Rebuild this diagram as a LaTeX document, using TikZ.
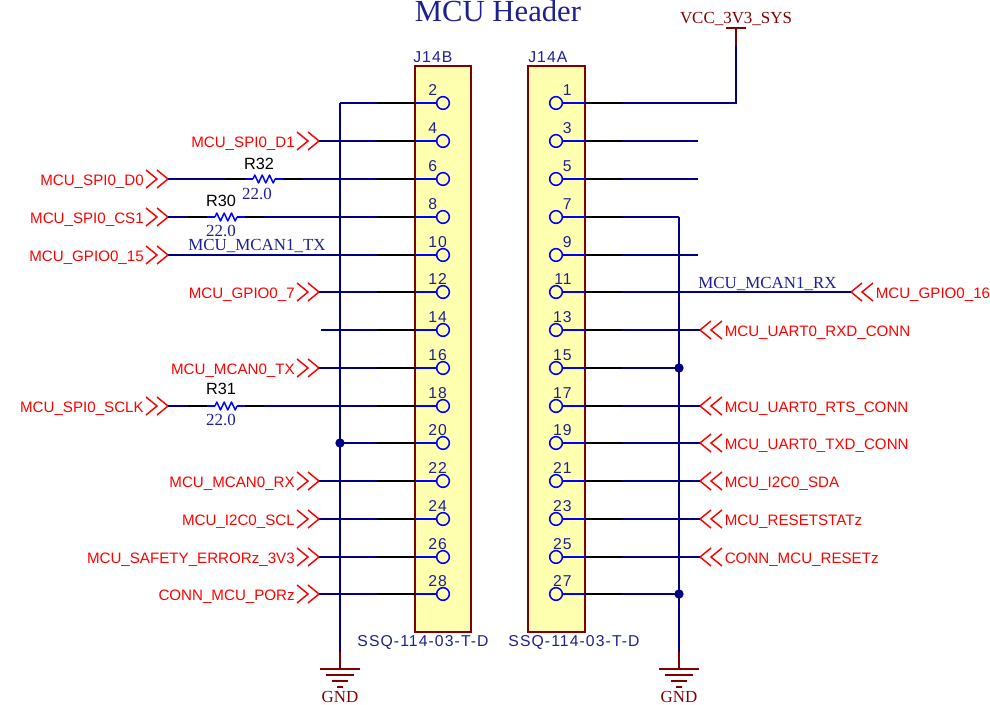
\documentclass[tikz,border=0pt]{standalone}
\usepackage{fontspec}
\usepackage{tikz}
\setmainfont{Liberation Serif}
\setsansfont{Liberation Sans}
\newfontfamily\spaced[LetterSpace=7]{Liberation Sans}
\usetikzlibrary{arrows,shapes}
\definecolor{wireblue}{HTML}{000080}
\definecolor{pinblue}{HTML}{0000FF}
\definecolor{partred}{HTML}{800000}
\definecolor{partfill}{HTML}{FFFFB0}
\definecolor{textblue}{HTML}{1C2090}
\tikzstyle{partbox}=[draw=partred,fill=partfill,line width=1.6pt]
\tikzstyle{pin}=[circle,draw=pinblue,line width=1.15pt,minimum size=9.5pt,inner sep=0pt]
\tikzstyle{wire} = [draw=wireblue,line width=1.1pt]
\tikzstyle{pinwire} = [draw=pinblue,line width=1.1pt]
\tikzstyle{stub} = [draw=black,line width=1.1pt]
\tikzstyle{supply} = [draw=partred,line width=1.1pt]
\tikzstyle{port} = [draw=red,line width=1.1pt]
\tikzstyle{junction}=[circle,fill=wireblue,minimum size=7pt,inner sep=0pt]
\tikzstyle{pinnum} = [font=\spaced\fontsize{11.8}{12}\selectfont,text=textblue,inner sep=0pt]
\tikzstyle{partlabel} = [font=\spaced\fontsize{11.8}{12}\selectfont,text=textblue,inner sep=0pt]
\tikzstyle{portlabel} = [font=\sffamily\fontsize{11.35}{12}\selectfont,text=red,inner sep=0pt]
\tikzstyle{netlabel} = [font=\rmfamily\fontsize{12.7}{13}\selectfont,text=textblue,inner sep=0pt]
\tikzstyle{pwrlabel} = [font=\rmfamily\fontsize{12.7}{13}\selectfont,text=partred,inner sep=0pt]
\tikzstyle{resname} = [font=\sffamily\fontsize{12.2}{13}\selectfont,text=black,inner sep=0pt]

\begin{document}
\begin{tikzpicture}[x=0.75pt,y=-0.75pt]

    \useasboundingbox (0,0) rectangle (990,705);

    \node[font=\rmfamily\fontsize{23}{24}\selectfont,text=textblue,inner sep=0pt,anchor=base] (title) at (498,22) {MCU Header};

    \path[partbox] (415,66) rectangle (471,632);
    \path[partbox] (528,66) rectangle (585,632);
    \node[partlabel,anchor=base west] (j14b) at (413,63) {J14B};
    \node[partlabel,anchor=base west] (j14a) at (528,63) {J14A};
    \node[partlabel,anchor=base] (ssqb) at (423,647) {SSQ-114-03-T-D};
    \node[partlabel,anchor=base] (ssqa) at (574,647) {SSQ-114-03-T-D};

    % pins of J14B
    \foreach \num/\y in {2/103, 4/141, 6/179, 8/217, 10/255, 12/292, 14/330, 16/368, 18/406, 20/443, 22/481, 24/519, 26/557, 28/594} {
        \node[pin] (p\num) at (443,\y) {};
        \node[pinnum,anchor=base west] (n\num) at (428,\y-7) {\num};
        \coordinate (e\num) at (415,\y);
        \coordinate (k\num) at (377,\y);
        \path[pinwire] (p\num) -- (e\num);
        \path[stub] (e\num) -- (k\num);
    }

    % pins of J14A
    \foreach \num/\y in {1/103, 3/141, 5/179, 7/217, 9/255, 11/292, 13/330, 15/368, 17/406, 19/443, 21/481, 23/519, 25/557, 27/594} {
        \node[pin] (p\num) at (556,\y) {};
        \node[pinnum,anchor=base east] (n\num) at (572,\y-7) {\num};
        \coordinate (e\num) at (585,\y);
        \coordinate (k\num) at (622,\y);
        \path[pinwire] (p\num) -- (e\num);
        \path[stub] (e\num) -- (k\num);
    }

    % ports on the left
    \foreach \num/\y/\tip/\name in {4/141/319/MCU\_SPI0\_D1, 6/179/168/MCU\_SPI0\_D0, 8/217/168/MCU\_SPI0\_CS1, 10/255/168/MCU\_GPIO0\_15, 12/292/319/MCU\_GPIO0\_7, 16/368/319/MCU\_MCAN0\_TX, 18/406/168/MCU\_SPI0\_SCLK, 22/481/319/MCU\_MCAN0\_RX, 24/519/319/MCU\_I2C0\_SCL, 26/557/319/MCU\_SAFETY\_ERRORz\_3V3, 28/594/319/CONN\_MCU\_PORz} {
        \coordinate (c\num) at (\tip,\y);
        \path[port] (\tip-11,\y-9) -- (\tip,\y) -- (\tip-11,\y+9);
        \path[port] (\tip-22,\y-9) -- (\tip-11,\y) -- (\tip-22,\y+9);
        \node[portlabel,anchor=base east] (l\num) at (\tip-24,\y+6.5) {\name};
    }

    % ports on the right
    \foreach \num/\y/\tip/\name in {11/292/851/MCU\_GPIO0\_16, 13/330/700/MCU\_UART0\_RXD\_CONN, 17/406/700/MCU\_UART0\_RTS\_CONN, 19/443/700/MCU\_UART0\_TXD\_CONN, 21/481/700/MCU\_I2C0\_SDA, 23/519/700/MCU\_RESETSTATz, 25/557/700/CONN\_MCU\_RESETz} {
        \coordinate (c\num) at (\tip,\y);
        \path[port] (\tip+11,\y-9) -- (\tip,\y) -- (\tip+11,\y+9);
        \path[port] (\tip+22,\y-9) -- (\tip+11,\y) -- (\tip+22,\y+9);
        \node[portlabel,anchor=base west] (l\num) at (\tip+24.5,\y+6.5) {\name};
    }

    % plain wires
    \foreach \num in {4, 10, 12, 16, 22, 24, 26, 28, 11, 13, 17, 19, 21, 23, 25}
        \path[wire] (k\num) -- (c\num);

    \coordinate (c14) at (321,330);
    \path[wire] (k14) -- (c14);
    \foreach \num/\y in {3/141, 5/179, 9/255} {
        \coordinate (c\num) at (698,\y);
        \path[wire] (k\num) -- (c\num);
    }

    % resistors
    \foreach \num/\y/\x/\tip/\rname/\tx/\ty/\vx/\vy in {6/179/253/168/R32/259/170/257/200, 8/217/215/168/R30/221/207/221/237, 18/406/215/168/R31/221/395/221/426} {
        \coordinate (ra\num) at (\x,\y);
        \coordinate (rb\num) at (\x+22,\y);
        \coordinate (sa\num) at (\x-8,\y);
        \coordinate (sb\num) at (\x+30,\y);
        \coordinate (ta\num) at (\x-27,\y);
        \coordinate (tb\num) at (\x+49,\y);
        \path[pinwire,line join=round] (ra\num) -- ++(1.8,-4) -- ++(3.7,8) -- ++(3.7,-8) -- ++(3.6,8) -- ++(3.7,-8) -- ++(3.7,8) -- (rb\num);
        \path[pinwire] (sa\num) -- (ra\num);
        \path[pinwire] (rb\num) -- (sb\num);
        \path[stub] (ta\num) -- (sa\num);
        \path[stub] (sb\num) -- (tb\num);
        \path[wire] (c\num) -- (ta\num);
        \path[wire] (tb\num) -- (k\num);
        \node[resname,anchor=base] (\rname) at (\tx,\ty) {\rname};
        \node[netlabel,anchor=base] (v\rname) at (\vx,\vy) {22.0};
    }

    \node[netlabel,anchor=base west] (txnet) at (188,251) {MCU\_MCAN1\_TX};
    \node[netlabel,anchor=base west] (rxnet) at (698,289) {MCU\_MCAN1\_RX};

    % supply
    \coordinate (vcc) at (736,28);
    \coordinate (vccw) at (736,46);
    \path[wire] (k1) -- (736,103) -- (vccw);
    \path[supply] (vccw) -- (vcc);
    \path[supply] (726,28) -- (746,28);
    \node[pwrlabel,anchor=base] (vccl) at (736,24) {VCC\_3V3\_SYS};

    % ground rails
    \foreach \x/\top/\name in {340/103/a, 679/217/b} {
        \coordinate (gt\name) at (\x,\top);
        \coordinate (gw\name) at (\x,652);
        \coordinate (g\name) at (\x,669);
        \path[wire] (gt\name) -- (gw\name);
        \path[supply] (gw\name) -- (g\name);
        \path[supply] (\x-20,669) -- (\x+20,669);
        \path[supply] (\x-14,675) -- (\x+14,675);
        \path[supply] (\x-8,681) -- (\x+8,681);
        \path[supply] (\x-3,687) -- (\x+3,687);
        \node[pwrlabel,anchor=base] (gl\name) at (\x,702.5) {GND};
    }
    \path[wire] (k2) -- (gta);
    \path[wire] (k7) -- (gtb);
    \path[wire] (k15) -- (679,368);
    \path[wire] (k27) -- (679,594);
    \path[wire] (k20) -- (340,443);
    \node[junction] (d15) at (679,368) {};
    \node[junction] (d27) at (679,594) {};
    \node[junction] (d20) at (340,443) {};

\end{tikzpicture}
\end{document}
